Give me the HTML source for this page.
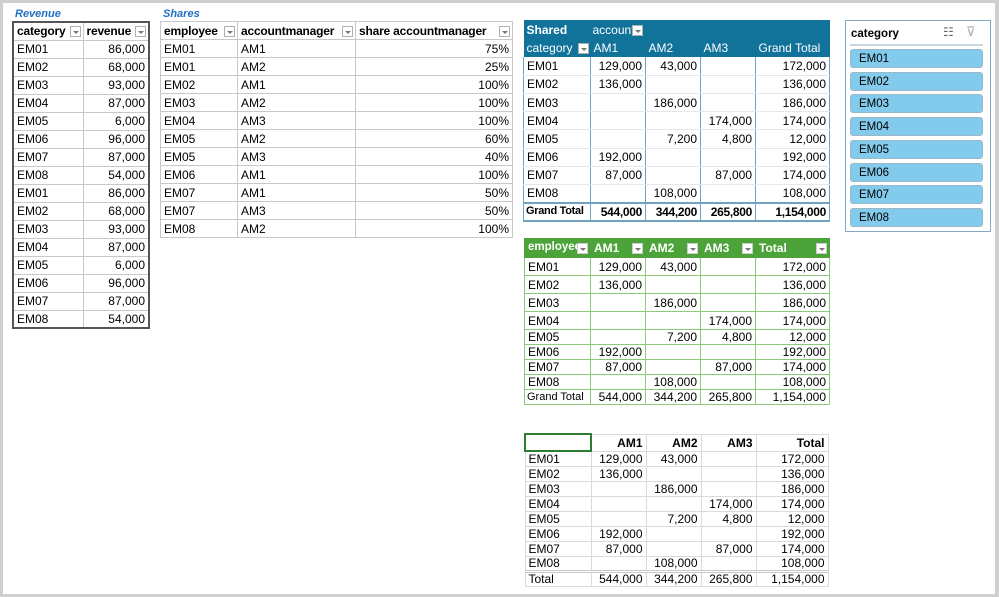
<!DOCTYPE html>
<html><head><meta charset="utf-8"><style>
*{margin:0;padding:0;box-sizing:border-box}
body{width:999px;height:597px;background:#fff;font-family:"Liberation Sans",Arial,sans-serif;font-size:12px;color:#000;position:relative;overflow:hidden}
.frame{position:absolute;left:0;top:0;width:999px;height:597px;border:3px solid #cfcfcf;border-right-width:4px}
table{position:absolute;border-collapse:collapse;table-layout:fixed}
td{padding:0 3px;white-space:nowrap;overflow:hidden;line-height:1;position:relative}
.r{text-align:right}
.lbl{position:absolute;color:#1f6fc5;font-weight:bold;font-style:italic;font-size:11px}
.t1 td{border:1px solid #c8c8c8;height:18px}
.t1 tr.h td{font-weight:bold;font-size:12px;letter-spacing:-0.2px}
.dd{display:block;width:11px;height:11px;border:1px solid #b0b0b0;position:absolute;right:2px;top:50%;margin-top:-5px;background:#fff}
.dd:after{content:"";position:absolute;left:2px;top:4px;border-left:3px solid transparent;border-right:3px solid transparent;border-top:3px solid #777}
.pv td{height:18.2px;border-left:1px solid #6fa3c2;border-right:1px solid #6fa3c2;border-bottom:1px solid #dfe9ef}
.pv tr.hd td{background:#11729a;color:#fff;border:none}
.pv tr.gt td{font-weight:bold;border-top:2px solid #6fa3c2;border-bottom:2px solid #6fa3c2;letter-spacing:-0.3px}
.gr td{border:1px solid #8ccb7a}
.gr tr.hd td{background:#4ca33a;color:#fff;font-weight:bold;border-color:#4ca33a}
.gr .dd{border-color:#ccc}
.t3 td{border:1px solid #dadada;height:15px}
.slicer{position:absolute;left:845px;top:20px;width:146px;height:212px;border:1px solid #7fa9c4}
.sb{position:absolute;left:4px;width:133px;height:19px;background:#83cbec;border:1px solid #9bb8c8;border-radius:3px;padding-left:8px;line-height:18px;font-size:11.5px}
</style></head><body>
<div class="frame"></div>
<div class="lbl" style="left:15px;top:8px">Revenue</div>
<div class="lbl" style="left:163px;top:8px">Shares</div>

<table class="t1" style="left:12px;top:21px;width:136px;border:2px solid #555">
<col style="width:70px"><col style="width:66px">
<tr class="h"><td>category<span class="dd"></span></td><td>revenue<span class="dd"></span></td></tr>
<tr><td>EM01</td><td class="r">86,000</td></tr>
<tr><td>EM02</td><td class="r">68,000</td></tr>
<tr><td>EM03</td><td class="r">93,000</td></tr>
<tr><td>EM04</td><td class="r">87,000</td></tr>
<tr><td>EM05</td><td class="r">6,000</td></tr>
<tr><td>EM06</td><td class="r">96,000</td></tr>
<tr><td>EM07</td><td class="r">87,000</td></tr>
<tr><td>EM08</td><td class="r">54,000</td></tr>
<tr><td>EM01</td><td class="r">86,000</td></tr>
<tr><td>EM02</td><td class="r">68,000</td></tr>
<tr><td>EM03</td><td class="r">93,000</td></tr>
<tr><td>EM04</td><td class="r">87,000</td></tr>
<tr><td>EM05</td><td class="r">6,000</td></tr>
<tr><td>EM06</td><td class="r">96,000</td></tr>
<tr><td>EM07</td><td class="r">87,000</td></tr>
<tr><td>EM08</td><td class="r">54,000</td></tr>
</table>

<table class="t1" style="left:160px;top:21px;width:352px">
<col style="width:77px"><col style="width:118px"><col style="width:157px">
<tr class="h"><td>employee<span class="dd"></span></td><td>accountmanager<span class="dd"></span></td><td>share accountmanager<span class="dd"></span></td></tr>
<tr><td>EM01</td><td>AM1</td><td class="r">75%</td></tr>
<tr><td>EM01</td><td>AM2</td><td class="r">25%</td></tr>
<tr><td>EM02</td><td>AM1</td><td class="r">100%</td></tr>
<tr><td>EM03</td><td>AM2</td><td class="r">100%</td></tr>
<tr><td>EM04</td><td>AM3</td><td class="r">100%</td></tr>
<tr><td>EM05</td><td>AM2</td><td class="r">60%</td></tr>
<tr><td>EM05</td><td>AM3</td><td class="r">40%</td></tr>
<tr><td>EM06</td><td>AM1</td><td class="r">100%</td></tr>
<tr><td>EM07</td><td>AM1</td><td class="r">50%</td></tr>
<tr><td>EM07</td><td>AM3</td><td class="r">50%</td></tr>
<tr><td>EM08</td><td>AM2</td><td class="r">100%</td></tr>
</table>

<table class="pv" style="left:523px;top:20px;width:306px">
<col style="width:67px"><col style="width:55px"><col style="width:55px"><col style="width:55px"><col style="width:74px">
<tr class="hd"><td style="font-weight:bold;height:19px">Shared</td><td colspan="4" style="padding-left:2px">account<span class="dd" style="left:41px;right:auto"></span></td></tr>
<tr class="hd"><td style="height:18px">category<span class="dd"></span></td><td>AM1</td><td>AM2</td><td>AM3</td><td>Grand Total</td></tr>
<tr><td>EM01</td><td class="r">129,000</td><td class="r">43,000</td><td></td><td class="r">172,000</td></tr>
<tr><td>EM02</td><td class="r">136,000</td><td></td><td></td><td class="r">136,000</td></tr>
<tr><td>EM03</td><td></td><td class="r">186,000</td><td></td><td class="r">186,000</td></tr>
<tr><td>EM04</td><td></td><td></td><td class="r">174,000</td><td class="r">174,000</td></tr>
<tr><td>EM05</td><td></td><td class="r">7,200</td><td class="r">4,800</td><td class="r">12,000</td></tr>
<tr><td>EM06</td><td class="r">192,000</td><td></td><td></td><td class="r">192,000</td></tr>
<tr><td>EM07</td><td class="r">87,000</td><td></td><td class="r">87,000</td><td class="r">174,000</td></tr>
<tr><td>EM08</td><td></td><td class="r">108,000</td><td></td><td class="r">108,000</td></tr>
<tr class="gt"><td style="font-size:11px;padding-left:2px">Grand Total</td><td class="r">544,000</td><td class="r">344,200</td><td class="r">265,800</td><td class="r">1,154,000</td></tr>
</table>

<div class="slicer">
<div style="position:absolute;left:5px;top:7px;font-weight:bold;font-size:11.5px">category</div>
<div style="position:absolute;left:97px;top:4px;color:#666;font-size:12px">☷</div>
<div style="position:absolute;left:120px;top:3px;color:#aaa;font-size:13px">⊽</div>
<div style="position:absolute;left:4px;top:23px;width:133px;border-top:2px solid #c8d6df"></div>
<div class="sb" style="top:28px">EM01</div>
<div class="sb" style="top:50.7px">EM02</div>
<div class="sb" style="top:73.4px">EM03</div>
<div class="sb" style="top:96.1px">EM04</div>
<div class="sb" style="top:118.8px">EM05</div>
<div class="sb" style="top:141.5px">EM06</div>
<div class="sb" style="top:164.2px">EM07</div>
<div class="sb" style="top:186.9px">EM08</div>
</div>

<table class="gr" style="left:524px;top:238px;width:305px">
<col style="width:66px"><col style="width:55px"><col style="width:55px"><col style="width:55px"><col style="width:74px">
<tr class="hd"><td style="height:19px;font-size:11.5px">employee<span class="dd"></span></td><td>AM1<span class="dd"></span></td><td>AM2<span class="dd"></span></td><td>AM3<span class="dd"></span></td><td>Total<span class="dd"></span></td></tr>
<tr><td style="height:18px">EM01</td><td class="r">129,000</td><td class="r">43,000</td><td></td><td class="r">172,000</td></tr>
<tr><td style="height:18px">EM02</td><td class="r">136,000</td><td></td><td></td><td class="r">136,000</td></tr>
<tr><td style="height:18px">EM03</td><td></td><td class="r">186,000</td><td></td><td class="r">186,000</td></tr>
<tr><td style="height:18px">EM04</td><td></td><td></td><td class="r">174,000</td><td class="r">174,000</td></tr>
<tr><td style="height:15px">EM05</td><td></td><td class="r">7,200</td><td class="r">4,800</td><td class="r">12,000</td></tr>
<tr><td style="height:15px">EM06</td><td class="r">192,000</td><td></td><td></td><td class="r">192,000</td></tr>
<tr><td style="height:15px">EM07</td><td class="r">87,000</td><td></td><td class="r">87,000</td><td class="r">174,000</td></tr>
<tr><td style="height:15px">EM08</td><td></td><td class="r">108,000</td><td></td><td class="r">108,000</td></tr>
<tr><td style="height:15px;font-size:11px;padding-left:2px">Grand Total</td><td class="r">544,000</td><td class="r">344,200</td><td class="r">265,800</td><td class="r">1,154,000</td></tr>
</table>

<table class="t3" style="left:524px;top:433px;width:303px;border:1px solid #7f9fd0">
<col style="width:66px"><col style="width:55px"><col style="width:55px"><col style="width:55px"><col style="width:72px">
<tr style="font-weight:bold"><td style="height:17px;border:2px solid #2e7d32"></td><td class="r">AM1</td><td class="r">AM2</td><td class="r">AM3</td><td class="r">Total</td></tr>
<tr><td>EM01</td><td class="r">129,000</td><td class="r">43,000</td><td></td><td class="r">172,000</td></tr>
<tr><td>EM02</td><td class="r">136,000</td><td></td><td></td><td class="r">136,000</td></tr>
<tr><td>EM03</td><td></td><td class="r">186,000</td><td></td><td class="r">186,000</td></tr>
<tr><td>EM04</td><td></td><td></td><td class="r">174,000</td><td class="r">174,000</td></tr>
<tr><td>EM05</td><td></td><td class="r">7,200</td><td class="r">4,800</td><td class="r">12,000</td></tr>
<tr><td>EM06</td><td class="r">192,000</td><td></td><td></td><td class="r">192,000</td></tr>
<tr><td>EM07</td><td class="r">87,000</td><td></td><td class="r">87,000</td><td class="r">174,000</td></tr>
<tr><td>EM08</td><td></td><td class="r">108,000</td><td></td><td class="r">108,000</td></tr>
<tr><td style="border-top:3px double #c8c8c8">Total</td><td class="r" style="border-top:3px double #c8c8c8">544,000</td><td class="r" style="border-top:3px double #c8c8c8">344,200</td><td class="r" style="border-top:3px double #c8c8c8">265,800</td><td class="r" style="border-top:3px double #c8c8c8">1,154,000</td></tr>
</table>
</body></html>
